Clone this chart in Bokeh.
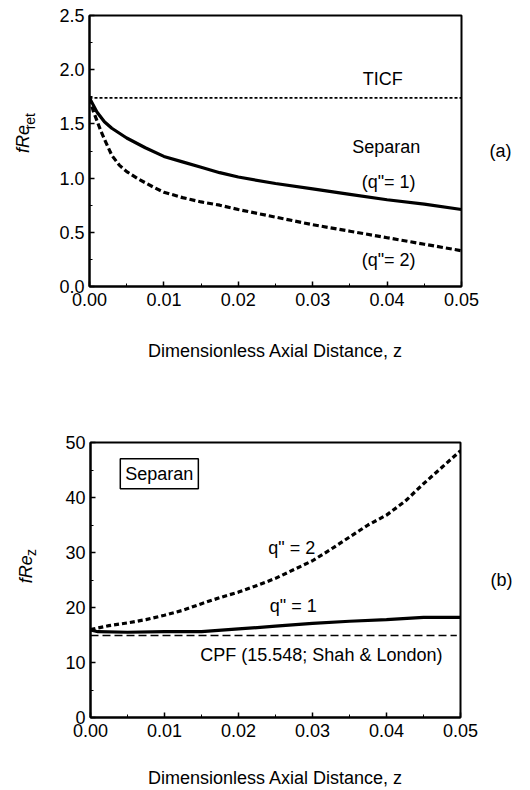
import math
from bokeh.plotting import figure
from bokeh.layouts import column, row
from bokeh.models import Label, NumeralTickFormatter, FixedTicker, LinearAxis, Range1d
from bokeh.embed import file_html
from bokeh.resources import INLINE

# ---- data ----
ticf_z = [0.0, 0.05]
ticf_val = [1.74, 1.74]

a_q1_z = [0, 0.001, 0.002, 0.003, 0.005, 0.0075, 0.01, 0.0125, 0.015, 0.0175,
          0.02, 0.025, 0.03, 0.035, 0.04, 0.045, 0.05]
a_q1_val = [1.74, 1.61, 1.52, 1.46, 1.37, 1.28, 1.20, 1.15, 1.10, 1.05,
            1.01, 0.95, 0.90, 0.85, 0.80, 0.76, 0.71]

a_q2_z = [0, 0.0005, 0.001, 0.0015, 0.002, 0.003, 0.004, 0.005, 0.0066, 0.0085,
          0.01, 0.0125, 0.015, 0.0175, 0.02, 0.025, 0.03, 0.035, 0.04, 0.045, 0.05]
a_q2_val = [1.74, 1.62, 1.53, 1.44, 1.36, 1.21, 1.12, 1.06, 0.99, 0.92,
            0.87, 0.82, 0.78, 0.75, 0.71, 0.64, 0.57, 0.51, 0.45, 0.39, 0.33]

b_q2_z = [0, 0.0025, 0.005, 0.0075, 0.01, 0.0125, 0.015, 0.0175, 0.02, 0.0225,
          0.025, 0.0275, 0.03, 0.0325, 0.035, 0.0375, 0.04, 0.0425, 0.045, 0.0475, 0.05]
b_q2_val = [16.0, 16.7, 17.2, 17.8, 18.6, 19.5, 20.7, 21.8, 22.8, 24.0,
            25.3, 26.9, 28.5, 30.6, 32.8, 35.0, 36.8, 39.3, 42.5, 45.5, 48.5]

b_q1_z = [0, 0.001, 0.005, 0.01, 0.015, 0.02, 0.025, 0.03, 0.035, 0.04, 0.045, 0.05]
b_q1_val = [15.9, 15.6, 15.5, 15.6, 15.6, 16.1, 16.6, 17.1, 17.5, 17.8, 18.2, 18.2]

cpf_z = [0.0, 0.0495]
cpf_val = [14.9, 14.9]

FONT = "Liberation Sans"
FS = "18px"
LW = 40  # width of the strip holding the rotated y titles


def style(p, fmt_y, title_standoff):
    p.grid.visible = False
    p.outline_line_color = "black"
    p.outline_line_width = 2
    for ax in (p.xaxis[0], p.yaxis[0]):
        ax.axis_line_width = 2
        ax.major_tick_in = 5
        ax.major_tick_out = 0
        ax.minor_tick_in = 3
        ax.minor_tick_out = 0
        ax.major_tick_line_width = 1.5
        ax.major_label_text_font = FONT
        ax.major_label_text_font_size = "18px"
        ax.major_label_text_color = "black"
    p.xaxis.formatter = NumeralTickFormatter(format="0.00")
    p.yaxis.formatter = NumeralTickFormatter(format=fmt_y)
    p.xaxis.major_label_standoff = 6
    p.yaxis.major_label_standoff = 5
    p.xaxis.axis_label = "Dimensionless Axial Distance, z"
    p.xaxis.axis_label_text_font = FONT
    p.xaxis.axis_label_text_font_size = FS
    p.xaxis.axis_label_text_font_style = "normal"
    p.xaxis.axis_label_text_color = "black"
    p.xaxis.axis_label_standoff = title_standoff
    p.background_fill_color = "white"
    p.border_fill_color = "white"


def side_tag(p, text, standoff):
    ax = LinearAxis(axis_label=text, axis_label_text_font=FONT, axis_label_text_font_size=FS,
                    axis_label_text_font_style="normal", axis_label_text_color="black",
                    axis_label_orientation="horizontal", axis_label_standoff=standoff,
                    axis_line_color=None, major_tick_line_color=None, minor_tick_line_color=None,
                    ticker=FixedTicker(ticks=[], minor_ticks=[]))
    p.add_layout(ax, "right")


def lbl(p, x, y, text, size=FS, style_="normal", angle=0.0, padding=0, box=False):
    kw = {}
    if box:
        kw = dict(border_line_color="black", border_line_width=1.5,
                  background_fill_color="white", padding=padding)
    p.add_layout(Label(x=x, y=y, text=text, text_font=FONT,
                       text_font_size=size, text_font_style=style_, text_align="center",
                       text_baseline="middle", angle=angle, text_color="black", **kw))


def title_strip(parts):
    s = figure(width=LW, height=395, output_backend="svg", toolbar_location=None,
               x_range=Range1d(0, LW), y_range=Range1d(395, 0),
               min_border=0, min_border_left=0, min_border_right=0,
               min_border_top=0, min_border_bottom=0)
    s.axis.visible = False
    s.grid.visible = False
    s.outline_line_color = None
    s.background_fill_color = "white"
    s.border_fill_color = "white"
    for (x, y, text, size, st) in parts:
        lbl(s, x, y, text, size=size, style_=st, angle=math.pi / 2)
    return s


# ---------------- panel (a) ----------------
pa = figure(width=530 - LW, height=395, output_backend="svg", toolbar_location=None,
            x_range=(0, 0.05), y_range=(0, 2.5),
            min_border_left=89 - LW, min_border_right=69, min_border_top=15, min_border_bottom=109)
style(pa, "0.0", 32)
pa.xaxis.ticker = FixedTicker(ticks=[0, 0.01, 0.02, 0.03, 0.04, 0.05],
                              minor_ticks=[0.005, 0.015, 0.025, 0.035, 0.045])
pa.yaxis.ticker = FixedTicker(ticks=[0, 0.5, 1.0, 1.5, 2.0, 2.5],
                              minor_ticks=[0.25, 0.75, 1.25, 1.75, 2.25])

pa.line(ticf_z, ticf_val, line_color="black", line_width=1.8, line_dash="3 2")
pa.line(a_q1_z, a_q1_val, line_color="black", line_width=3.2)
pa.line(a_q2_z, a_q2_val, line_color="black", line_width=3.2, line_dash="6 3")

lbl(pa, 0.0394, 1.91, "TICF")
lbl(pa, 0.0399, 1.29, "Separan")
lbl(pa, 0.0402, 0.96, "(q\"= 1)")
lbl(pa, 0.0402, 0.24, "(q\"= 2)")
side_tag(pa, "(a)", 28)

sa = title_strip([(22, 180, "fRe", FS, "italic"), (29, 154, "ret", "14px", "normal")])

# ---------------- panel (b) ----------------
pb = figure(width=530 - LW, height=395, output_backend="svg", toolbar_location=None,
            x_range=(0, 0.05), y_range=(0, 50),
            min_border_left=90 - LW, min_border_right=70, min_border_top=47, min_border_bottom=72)
style(pb, "0", 28)
pb.xaxis.ticker = FixedTicker(ticks=[0, 0.01, 0.02, 0.03, 0.04, 0.05],
                              minor_ticks=[0.005, 0.015, 0.025, 0.035, 0.045])
pb.yaxis.ticker = FixedTicker(ticks=[0, 10, 20, 30, 40, 50],
                              minor_ticks=[5, 15, 25, 35, 45])

pb.line(cpf_z, cpf_val, line_color="black", line_width=1.6, line_dash="8 4")
pb.line(b_q1_z, b_q1_val, line_color="black", line_width=3.2)
pb.line(b_q2_z, b_q2_val, line_color="black", line_width=3.2, line_dash="5 3")

lbl(pb, 0.0093, 44.3, "Separan", box=True, padding=5)
lbl(pb, 0.0272, 30.9, "q\" = 2")
lbl(pb, 0.0274, 20.3, "q\" = 1")
lbl(pb, 0.0312, 11.4, "CPF (15.548; Shah & London)")
side_tag(pb, "(b)", 30)

sb = title_strip([(25, 182, "fRe", FS, "italic"), (30, 158, "z", "14px", "normal")])

layout = column(row(sa, pa, spacing=0), row(sb, pb, spacing=0), spacing=0)
open("out.html", "w").write(file_html(layout, INLINE))
